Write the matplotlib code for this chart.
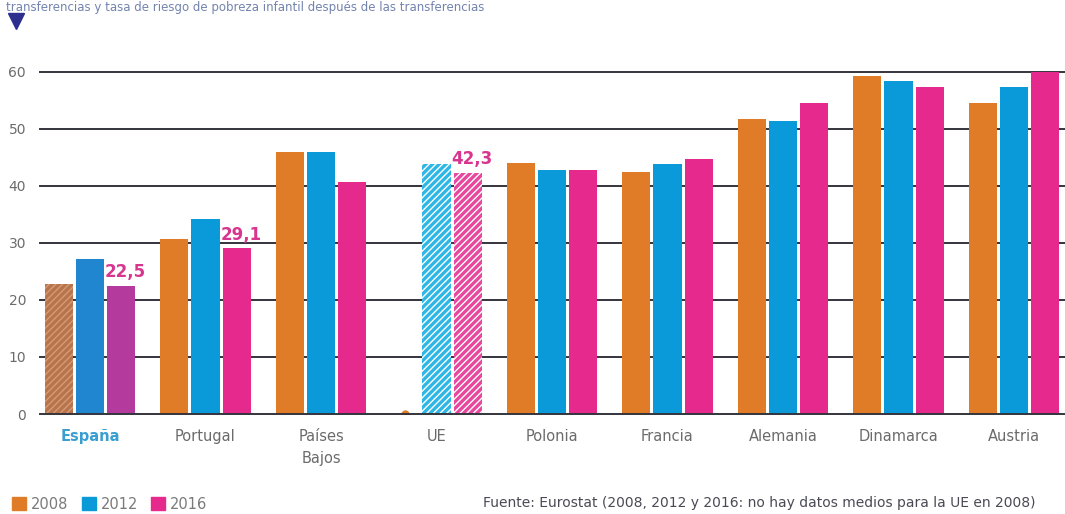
import matplotlib
matplotlib.use("Agg")
import matplotlib.pyplot as plt
from matplotlib.patches import Patch
from matplotlib.lines import Line2D
import numpy as np

# --- data -------------------------------------------------------------
countries = ["España", "Portugal", "Países\nBajos", "UE", "Polonia",
             "Francia", "Alemania", "Dinamarca", "Austria"]
years = ["2008", "2012", "2016"]
v2008 = [22.8, 30.7, 45.9, None, 44.0, 42.4, 51.7, 59.2, 54.6]
v2012 = [27.2, 34.1, 45.9, 43.8, 42.7, 43.8, 51.3, 58.3, 57.4]
v2016 = [22.5, 29.1, 40.6, 42.3, 42.7, 44.7, 54.6, 57.4, 60.0]
labelled = {0: "22,5", 1: "29,1", 3: "42,3"}   # 2016 values written on the chart
yticks = [0, 10, 20, 30, 40, 50, 60]

# --- style ------------------------------------------------------------
ORANGE, BLUE, PINK = "#E07B28", "#0A9AD9", "#E6298D"
SPAIN = ["#B8744C", "#1F86CF", "#B43A9E"]
EU = [None, "#2EB6E5", "#E7479C"]
GRID = "#33343c"
TXT = "#6b6b6b"

W, H = 1065, 514
fig = plt.figure(figsize=(W / 100, H / 100), dpi=100)
ax = fig.add_axes([40 / W, 100 / H, 1 - 40 / W, (442.3 - 100) / H])

x = np.arange(len(countries))
step, bw = 0.27, 0.245
series = [v2008, v2012, v2016]
colors = [ORANGE, BLUE, PINK]

for k, (vals, col) in enumerate(zip(series, colors)):
    for i, v in enumerate(vals):
        xi = x[i] + (k - 1) * step
        if v is None:
            # missing value: small stub on the baseline
            ax.plot(xi, 0, marker="o", ms=6, color=col, mec="none",
                    zorder=2)
            continue
        if countries[i] == "España":
            ax.bar(xi, v, bw, color=SPAIN[k], zorder=2,
                   hatch="/////" if k == 0 else None,
                   edgecolor="#d69a74" if k == 0 else SPAIN[k], linewidth=0)
        elif countries[i] == "UE":
            ax.bar(xi, v, bw, color=EU[k], zorder=2, hatch="/////",
                   edgecolor="white", linewidth=0)
        else:
            ax.bar(xi, v, bw, color=col, zorder=2, linewidth=0)

for i, txt in labelled.items():
    xi = x[i] + step
    ax.annotate(txt, (xi, v2016[i]), xytext=(3, 6), textcoords="offset points",
                ha="center", va="baseline", fontsize=12, fontweight="bold",
                color="#D8358F")

for t in yticks:
    ax.axhline(t, color=GRID, lw=1.4, zorder=3 if t == 0 else 1,
               clip_on=False)

ax.set_xlim((40 - 90) / 115.5, (W - 90) / 115.5)
ax.set_ylim(0, 60)
ax.set_yticks(yticks)
ax.set_yticklabels([str(t) for t in yticks], fontsize=10, color=TXT)
ax.set_xticks(x)
ax.set_xticklabels(countries, fontsize=10.5, color=TXT, linespacing=1.55,
                   va="top")
ax.get_xticklabels()[0].set_color("#3A9FD0")
ax.get_xticklabels()[0].set_fontweight("bold")
ax.tick_params(axis="both", length=0)
ax.tick_params(axis="y", pad=10)
ax.tick_params(axis="x", pad=11)
for s in ax.spines.values():
    s.set_visible(False)

# header line at the top edge, and the marker below it
fig.text(6 / W, 1 - 1 / H, "transferencias y tasa de riesgo de pobreza infantil "
         "después de las transferencias", fontsize=8.5, color="#7283ad",
         va="top", ha="left")
fig.add_artist(Line2D([16 / W], [1 - 21 / H], marker="v", ms=12,
                      color="#2D2F8E", transform=fig.transFigure))

handles = [Patch(color=c, label=y) for c, y in zip(colors, years)]
fig.legend(handles=handles, loc="lower left", bbox_to_anchor=(2 / W, -8 / H),
           ncol=3, frameon=False, fontsize=10.5, handlelength=0.95,
           handleheight=1.0, handletextpad=0.35, columnspacing=0.9,
           labelcolor="#7a7a7a", borderaxespad=0.3)

fig.text(483 / W, 11 / H, "Fuente: Eurostat (2008, 2012 y 2016: no hay datos "
         "medios para la UE en 2008)", fontsize=10, color="#4a4a55",
         va="center", ha="left")

fig.savefig("out.png", dpi=100)
